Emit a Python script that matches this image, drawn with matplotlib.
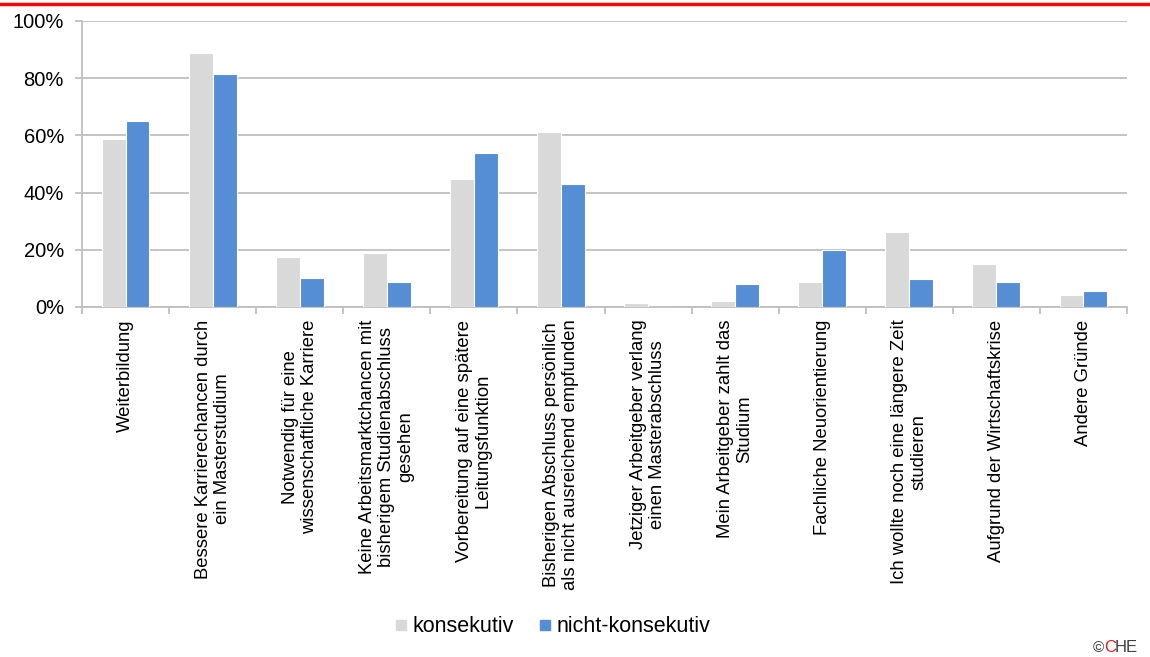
import matplotlib
matplotlib.use('Agg')

import numpy as np
import matplotlib.pyplot as plt
from matplotlib.lines import Line2D
from matplotlib.ticker import FuncFormatter

plt.rc('font', family = ['Liberation Sans', 'DejaVu Sans'], size = 13)

CATEGORIES = [
  'Weiterbildung',
  'Bessere Karrierechancen durch\nein Masterstudium',
  'Notwendig für eine\nwissenschaftliche Karriere',
  'Keine Arbeitsmarktchancen mit\nbisherigem Studienabschluss\ngesehen',
  'Vorbereitung auf eine spätere\nLeitungsfunktion',
  'Bisherigen Abschluss persönlich\nals nicht ausreichend empfunden',
  'Jetziger Arbeitgeber verlang\neinen Masterabschluss',
  'Mein Arbeitgeber zahlt das\nStudium',
  'Fachliche Neuorientierung',
  'Ich wollte noch eine längere Zeit\nstudieren',
  'Aufgrund der Wirtschaftskrise',
  'Andere Gründe',
]
KONSEKUTIV       = [58.6, 88.7, 17.4, 18.8, 44.8, 61.2, 1.4, 2.0, 8.6, 26.1, 14.9, 4.2]
NICHT_KONSEKUTIV = [65.0, 81.5, 10.1,  8.7, 54.0, 43.0, 0.0, 8.0, 19.9, 9.8,  8.7, 5.5]
SERIES_LABELS = ['konsekutiv', 'nicht-konsekutiv']
YTICKS = [0, 20, 40, 60, 80, 100]

GREY = '#D9D9D9'
BLUE = '#558ED5'
GRID = '#BFBFBF'

fig = plt.figure(figsize = (11.5, 6.57), dpi = 100)
ax = fig.add_axes([82 / 1150., 1 - 307 / 657., (1127 - 82) / 1150., (307 - 21) / 657.])

x = np.arange(len(CATEGORIES))
width = 0.275
ax.bar(x - width / 2, KONSEKUTIV, width, color = GREY, edgecolor = 'white', linewidth = 0.8, zorder = 3)
ax.bar(x + width / 2, NICHT_KONSEKUTIV, width, color = BLUE, edgecolor = 'white', linewidth = 0.8, zorder = 3)

ax.set_xlim(-0.5, len(CATEGORIES) - 0.5)
ax.set_ylim(0, 100)
ax.set_yticks(YTICKS)
ax.yaxis.set_major_formatter(FuncFormatter(lambda v, pos: '{:d}%'.format(int(v))))
ax.yaxis.grid(True, color = GRID, linewidth = 1.3, zorder = 0)
ax.set_axisbelow(True)

# category boundaries carry the tick marks, labels sit in the middle
ax.set_xticks(np.arange(len(CATEGORIES) + 1) - 0.5)
ax.set_xticklabels([])
ax.set_xticks(x, minor = True)
ax.set_xticklabels(CATEGORIES, minor = True, rotation = 90, ha = 'center', va = 'top',
                   multialignment = 'center', fontsize = 13.3, linespacing = 1.15)
ax.tick_params(axis = 'x', which = 'minor', length = 0, pad = 9)
ax.tick_params(axis = 'x', which = 'major', length = 5, width = 1.3, color = GRID, direction = 'out')
ax.tick_params(axis = 'y', length = 5, width = 1.3, color = GRID, labelsize = 14.5, pad = 8)

for side in ['top', 'right']:
  ax.spines[side].set_visible(False)
for side in ['left', 'bottom']:
  ax.spines[side].set_color(GRID)
  ax.spines[side].set_linewidth(1.3)

handles = [
  Line2D([], [], marker = 's', linestyle = '', markersize = 7, color = GREY),
  Line2D([], [], marker = 's', linestyle = '', markersize = 7, color = BLUE),
]
fig.legend(handles, SERIES_LABELS, loc = 'center', bbox_to_anchor = (553 / 1150., 1 - 627 / 657.),
           ncol = 2, frameon = False, fontsize = 15.5, handlelength = 0.5, handletextpad = 0.3,
           columnspacing = 1.2)

# red rule along the top edge
fig.add_artist(Line2D([0, 1], [1 - 4 / 657., 1 - 4 / 657.], color = '#FF0000', linewidth = 2.5,
                      transform = fig.transFigure))

# publisher mark
fig.text(1093 / 1150., 1 - 648 / 657., '©', color = '#404040', fontsize = 11, ha = 'left', va = 'center')
fig.text(1104 / 1150., 1 - 648 / 657., 'C', color = '#E02020', fontsize = 12, ha = 'left', va = 'center')
fig.text(1115 / 1150., 1 - 648 / 657., 'HE', color = '#404040', fontsize = 12, ha = 'left', va = 'center')

fig.savefig('out.png', dpi = 100)
